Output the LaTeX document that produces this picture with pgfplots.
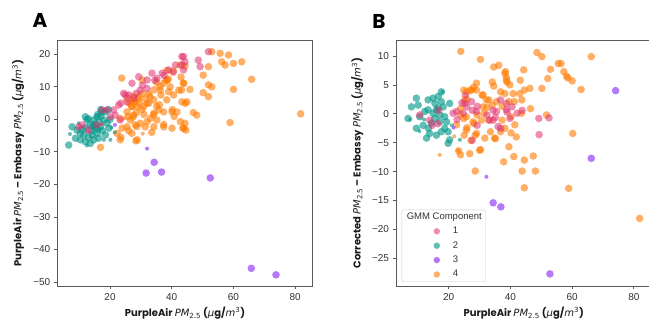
\documentclass[border=0pt]{standalone}
\usepackage{fontspec}
\setmainfont{Liberation Sans}
\newfontfamily\popb{Poppins}
\newfontfamily\dvs{DejaVu Sans}
\usepackage{pgfplots}
\pgfplotsset{compat=1.18}
\definecolor{cOr}{HTML}{FF7A00}
\definecolor{cPk}{HTML}{E0306F}
\definecolor{cTl}{HTML}{009688}
\definecolor{cPu}{HTML}{A259F7}
\definecolor{axgray}{HTML}{5A5A5A}
\definecolor{tickc}{HTML}{333333}
\definecolor{labc}{HTML}{1A1A1A}
\newcommand{\pmit}{{\dvs\itshape\mdseries PM}\textsubscript{\dvs\mdseries 2.5}}
\newcommand{\unitsit}{({\dvs\itshape\mdseries µ}g/{\dvs\itshape\mdseries m}\textsuperscript{\dvs\mdseries 3})}
\pgfplotsset{
  base/.style={scale only axis, width=255.4pt, height=246pt, anchor=south west,
    axis line style={draw=axgray, line width=0.9pt},
    tick style={draw=axgray, line width=0.8pt}, tick align=outside, major tick length=3.5pt,
    tick pos=left,
    ticklabel style={font=\fontsize{10}{12}\selectfont, text=tickc},
    xtick={20,40,60,80}, xticklabels={20,40,60,80},
    xmin=2.9, xmax=85.7,
    label style={font=\popb\bfseries\fontsize{10}{12}\selectfont, text=labc},
    xlabel style={at={(axis description cs:0.5,-0.11)}, anchor=center},
    xlabel={PurpleAir \pmit{} \unitsit},
  },
  big/.style={only marks, mark=*, mark size=3.8pt, forget plot},
  small/.style={only marks, mark=*, mark size=2pt, forget plot},
  cor/.style={draw=none, fill=cOr, mark options={draw=none, draw opacity=0, fill=cOr, fill opacity=0.6}},
  cpk/.style={draw=none, fill=cPk, mark options={draw=none, draw opacity=0, fill=cPk, fill opacity=0.55}},
  ctl/.style={draw=none, fill=cTl, mark options={draw=none, draw opacity=0, fill=cTl, fill opacity=0.62}},
  cpu/.style={draw=none, fill=cPu, mark options={draw=none, draw opacity=0, fill=cPu, fill opacity=0.8}},
}
\newcommand{\legimg}[2]{\addlegendimage{legend image code/.code={\fill[draw=none, #1, fill opacity=#2] (33pt,0pt) circle (3.2pt); \path[draw=none] (0pt,0pt) -- (47pt,0pt);}}}
\begin{document}
\begin{tikzpicture}
% ---------------- Panel A ----------------
\begin{axis}[base, at={(57.3pt,34pt)},
  ymin=-51.23, ymax=24.4,
  ytick={-50,-40,-30,-20,-10,0,10,20},
  yticklabels={−50,−40,−30,−20,−10,0,10,20},
  ylabel style={at={(axis description cs:-0.154,0.5)}, anchor=center},
  ylabel={PurpleAir \pmit{} – Embassy \pmit{} \unitsit},
]
\addplot[big, cor] table {
30.4 12.1
27.7 5.4
29.3 7.0
30.9 3.9
28.8 3.9
27.1 3.9
32.0 4.9
34.2 6.0
36.3 9.0
37.4 11.1
38.5 12.1
39.5 10.0
40.6 7.5
42.3 9.0
43.9 11.1
43.3 5.4
44.4 4.9
35.8 2.9
37.4 2.3
40.1 2.3
41.7 2.3
34.2 1.9
33.1 0.3
35.2 -0.2
32.0 -0.7
29.8 -1.2
28.2 -1.7
25.5 -2.3
23.3 0.3
23.9 -2.7
26.6 -0.2
40.1 -2.7
37.4 -2.3
34.2 -2.3
31.4 -2.3
22.3 -4.3
27.1 -4.3
23.3 -6.3
28.8 -6.3
16.9 -8.6
43.9 -2.7
42.8 -0.7
25.5 2.3
27.7 1.3
53.0 20.8
55.7 20.3
58.4 19.8
56.2 17.7
57.3 16.7
60.0 17.2
62.7 17.7
51.9 16.2
50.2 13.6
65.9 12.3
60.0 9.2
51.9 10.6
53.0 10.0
50.2 8.2
51.9 7.0
43.8 11.1
45.9 9.2
43.2 9.0
44.9 5.4
47.0 2.1
48.1 1.3
44.3 -1.2
43.6 -2.7
44.6 -3.3
58.9 -1.0
81.8 1.7
23.8 12.7
38.4 15.0
40.5 14.9
42.7 16.7
44.3 16.4
43.0 13.0
35.1 11.4
29.2 6.3
27.6 7.1
27.0 6.0
25.4 6.6
32.6 7.8
34.3 9.1
36.2 10.1
38.2 12.0
38.9 12.4
25.9 0.9
27.4 0.7
28.6 -2.2
30.3 3.0
27.0 4.0
34.1 1.4
37.4 -1.6
40.8 0.9
40.2 3.0
38.4 6.0
35.1 4.0
32.6 5.0
31.4 6.3
28.4 -6.6
23.5 -5.5
26.2 5.0
28.0 5.5
29.5 5.0
30.5 8.0
33.0 7.0
36.5 7.5
28.5 2.0
31.0 1.5
26.0 -3.5
33.5 -4.0
36.0 4.5
39.0 8.5
};
\addplot[small, cor] table {
30.6 -4.4
24.8 0.4
};
\addplot[big, ctl] table {
6.6 -7.9
7.7 -2.3
9.3 -3.3
8.8 -5.8
10.4 -6.3
12.0 -6.9
13.6 -7.4
14.7 -6.3
16.3 -5.8
12.5 -0.2
13.6 -1.7
14.7 -0.2
15.8 0.8
17.4 2.3
18.5 2.3
18.0 -0.2
16.9 -2.3
19.0 -1.2
19.6 -2.7
18.5 -4.8
15.8 -4.3
14.2 -4.8
11.5 -4.8
10.4 -4.3
15.2 -2.7
12.0 0.8
17.0 3.0
19.5 3.0
16.0 1.5
14.0 -3.5
11.0 -3.0
13.0 -5.5
17.5 -3.5
20.0 0.0
16.5 -0.8
15.0 -1.5
13.0 0.2
14.5 -2.0
16.0 -3.0
12.0 -2.5
17.0 1.0
};
\addplot[small, ctl] table {
18.0 -6.3
20.1 -6.3
7.0 -4.5
9.8 -1.2
21.5 -4.0
20.5 -2.5
12.5 -8.0
};
\addplot[big, cpk] table {
43.3 19.3
41.2 16.7
43.3 16.7
39.0 15.2
36.9 14.2
33.6 14.2
35.2 12.6
32.0 12.1
29.3 13.1
27.1 11.1
32.0 9.5
29.8 9.0
24.4 8.0
26.1 7.5
27.7 6.5
25.5 5.4
22.8 4.4
21.2 2.9
19.0 2.9
17.4 2.9
21.7 1.3
20.1 0.8
23.3 -0.2
10.9 -1.7
13.1 -3.3
15.8 -1.7
9.9 -2.3
51.9 20.8
43.8 19.3
44.3 17.7
48.6 18.2
49.2 16.2
43.8 15.2
25.0 7.5
28.5 8.0
34.5 12.0
30.5 10.5
37.5 13.5
40.5 14.5
23.5 5.0
};
\addplot[small, cpk] table {
12.5 -3.8
17.5 -1.5
};
\addplot[big, cpu] table {
34.3 -13.2
31.7 -16.5
36.7 -16.2
52.5 -18.0
65.8 -45.8
73.8 -47.8
};
\addplot[small, cpu] table {
32.0 -9.0
21.6 -1.7
};
\end{axis}
% ---------------- Panel B ----------------
\begin{axis}[base, at={(396pt,34pt)},
  ymin=-29.79, ymax=12.77,
  ytick={-25,-20,-15,-10,-5,0,5,10},
  yticklabels={−25,−20,−15,−10,−5,0,5,10},
  ylabel style={at={(axis description cs:-0.1515,0.5)}, anchor=center},
  ylabel={Corrected \pmit{} – Embassy \pmit{} \unitsit},
  legend cell align=left,
  legend style={at={(axis description cs:0.022,0.0175)}, anchor=south west,
    draw=black!20, rounded corners=2pt, fill=white, fill opacity=0.85, text opacity=1,
    font=\fontsize{9.5}{11}\selectfont, text=tickc,
    inner xsep=2pt, inner ysep=2.5pt, row sep=5.4pt, column sep=0pt,
    nodes={inner xsep=2pt, inner ysep=0pt, text height=7pt, text depth=2pt}},
]
\addlegendimage{empty legend}
\addlegendentry{\hspace*{-46pt}GMM Component}
\legimg{cPk}{0.55}
\addlegendentry{1}
\legimg{cTl}{0.62}
\addlegendentry{2}
\legimg{cPu}{0.8}
\addlegendentry{3}
\legimg{cOr}{0.6}
\addlegendentry{4}
\addplot[big, cor] table {
23.9 10.8
30.3 9.4
48.6 10.6
50.2 9.9
53.0 7.7
52.1 6.1
55.5 8.7
56.4 8.7
57.3 7.3
58.2 6.5
58.6 6.2
60.0 5.7
62.9 4.2
66.2 9.9
60.2 -3.4
58.9 -12.9
81.9 -18.1
50.2 4.4
51.7 -0.2
44.3 7.6
43.2 5.8
46.3 4.4
44.5 4.1
43.7 2.4
46.5 0.9
41.3 2.1
39.5 2.1
40.2 -0.5
40.2 -3.3
39.5 -5.7
38.4 7.3
38.7 6.3
38.9 5.5
36.2 8.4
34.6 8.1
36.8 3.8
34.1 5.5
34.6 4.8
33.0 2.4
34.1 1.5
37.3 1.3
33.5 -3.1
35.1 -4.3
36.8 -3.1
37.3 -1.1
41.1 -7.4
44.5 -8.0
47.4 -7.3
37.8 -8.3
43.8 -9.9
48.1 -9.9
44.5 -12.8
28.6 -9.9
30.3 -6.2
26.8 -6.9
23.2 -6.4
23.8 -7.1
28.6 -3.7
27.2 -4.6
25.0 -3.7
28.1 -1.7
29.2 -0.2
31.4 0.1
32.4 1.1
30.8 3.2
29.0 4.1
28.1 4.6
27.0 4.1
24.9 4.1
25.9 2.5
23.8 0.9
23.8 -0.2
24.9 -0.8
25.9 -2.4
29.0 5.3
27.4 4.1
25.8 3.8
31.1 3.3
32.2 2.4
35.5 2.1
31.1 1.2
25.7 -0.5
27.9 -1.4
30.6 -1.1
33.3 -1.1
25.7 -2.8
29.0 -3.4
31.7 -4.2
34.9 -4.2
38.2 -2.5
41.4 -1.9
41.9 -4.0
38.2 7.0
38.7 5.8
39.8 5.0
38.2 3.5
40.9 3.5
43.0 3.5
30.0 -6.3
25.2 2.4
22.5 -1.9
43.6 0.1
};
\addplot[small, cor] table {
17.1 -7.1
21.8 -3.9
23.0 -6.3
};
\addplot[big, ctl] table {
6.8 -0.8
7.9 1.2
9.5 2.7
10.1 1.5
10.6 -0.5
11.7 -2.0
9.5 -2.5
12.8 -4.2
13.8 -3.4
13.4 -2.5
14.4 -1.6
13.3 2.4
14.9 2.7
15.5 1.8
16.6 3.0
17.6 3.8
17.6 2.1
18.2 1.2
16.0 0.7
14.9 0.1
17.1 -0.2
18.7 -0.5
19.3 -1.4
20.3 1.8
17.1 -1.4
18.7 -2.5
17.6 -3.1
19.8 -3.1
20.3 -4.5
19.8 -5.1
16.0 -3.7
13.3 0.7
12.2 0.4
15.5 -0.8
16.5 1.0
};
\addplot[small, ctl] table {
23.6 -4.5
10.5 -3.0
18.0 3.8
12.0 -1.0
21.0 -2.0
7.5 -1.0
};
\addplot[big, cpk] table {
25.4 3.2
24.3 1.9
25.9 1.2
27.6 0.6
29.2 1.3
32.4 -0.2
33.0 -1.1
34.4 0.6
35.1 -0.6
36.8 2.4
38.9 0.3
40.5 1.2
42.2 0.1
43.8 0.6
36.8 -2.5
27.6 -4.6
29.2 -2.0
22.7 -1.0
21.4 0.1
25.2 1.8
27.4 2.1
24.7 0.1
29.0 0.4
34.4 -1.1
35.5 0.4
38.7 0.7
39.8 -0.8
36.0 -2.2
38.7 1.8
22.5 0.4
52.5 -0.7
49.2 -0.8
49.3 -3.6
10.6 -0.2
13.8 -1.1
16.8 0.6
16.4 -1.7
14.6 -2.0
};
\addplot[big, cpu] table {
74.1 4.0
66.2 -7.7
34.4 -15.4
36.9 -16.1
52.8 -27.7
};
\addplot[small, cpu] table {
32.2 -10.9
21.6 -2.4
};
\end{axis}
\node[font=\popb\bfseries\fontsize{20}{24}\selectfont, text=black] at (40pt,300pt) {A};
\node[font=\popb\bfseries\fontsize{20}{24}\selectfont, text=black] at (379pt,299pt) {B};
\pgfresetboundingbox
\path (0pt,0pt) rectangle (649pt,320pt);
\end{tikzpicture}
\end{document}
